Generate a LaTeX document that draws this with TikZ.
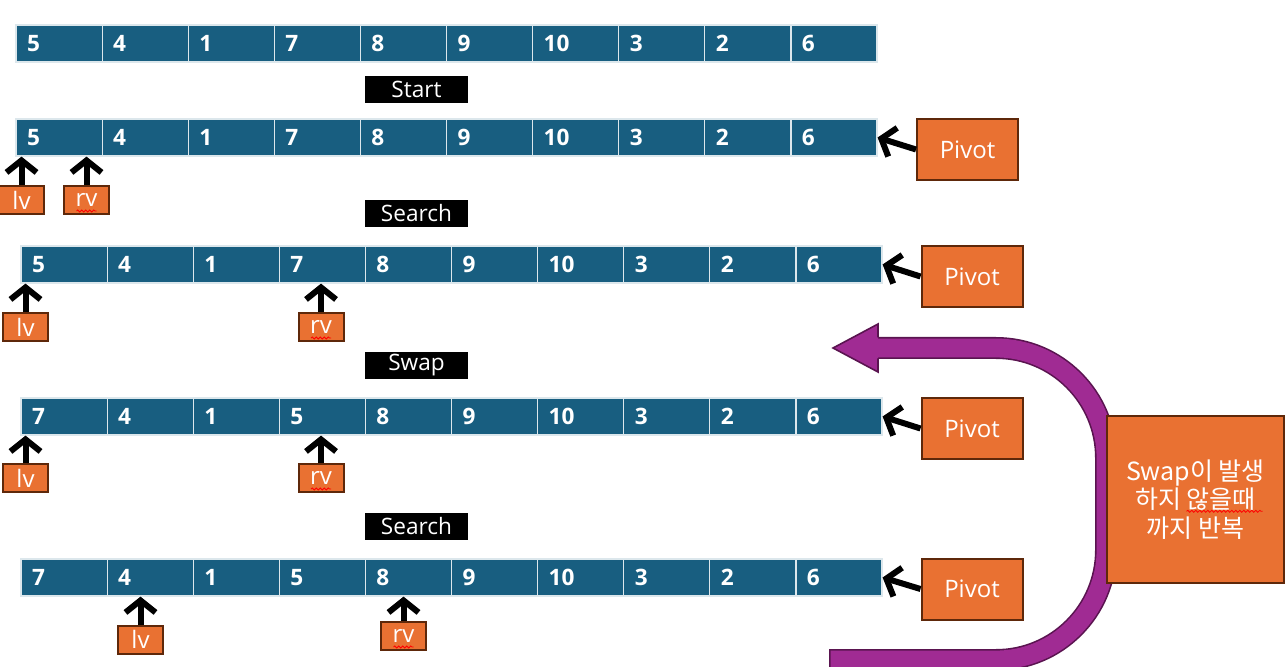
\documentclass[tikz,border=0pt]{standalone}
\usepackage{fontspec}
\setmainfont{Open Sans}
\newfontfamily\krfont{Noto Sans CJK KR}
\usetikzlibrary{arrows.meta,decorations.pathmorphing}
\definecolor{barblue}{RGB}{24,94,128}
\definecolor{orng}{RGB}{233,113,50}
\definecolor{orngb}{RGB}{94,40,10}
\definecolor{purp}{RGB}{160,43,147}
\definecolor{purpd}{RGB}{90,20,80}
\tikzset{
 cell/.style={fill=barblue, draw=white!85!barblue, line width=0.6pt, minimum width=43.05pt,
   minimum height=18.5pt, text width=32pt, inner xsep=5.5pt, inner ysep=0pt, align=left,
   text=white, font=\bfseries\fontsize{11.3}{13}\selectfont},
 tag/.style={fill=black, text=white, minimum width=51.5pt, minimum height=13.5pt, inner sep=0pt,
   font=\fontsize{11.3}{13}\selectfont},
 pivotbox/.style={fill=orng, draw=orngb, line width=1pt, minimum width=50.5pt, minimum height=30.5pt,
   inner sep=0pt, text=white, font=\fontsize{12}{14}\selectfont},
 ptrbox/.style={fill=orng, draw=orngb, line width=1pt, minimum width=22.5pt, minimum height=14pt,
   inner sep=0pt, text=white, font=\fontsize{12}{14}\selectfont},
 bigbox/.style={fill=orng, draw=orngb, line width=1pt, minimum width=88.8pt, minimum height=83.3pt,
   inner sep=0pt, text=white, align=center, font=\krfont\fontsize{12.5}{14.2}\selectfont},
 blk/.style={-{Straight Barb[length=6pt,width=15pt]}, line width=3pt, black},
 spell/.style={red, line width=0.4pt, decorate, decoration={snake, amplitude=0.5pt, segment length=2pt}},
}
\newcommand\qsrow[4]{%
  \foreach \v [count=\i] in {#4} {
    \node[cell] (#1c\i) at ({#2+(\i-0.5)*86.1},{#3+18.5}) {\v};
  }}
\begin{document}
\begin{tikzpicture}[x=0.5pt,y=-0.5pt]
\useasboundingbox (0,0) rectangle (1288,667);
\clip (0,0) rectangle (1288,667);

% rows
\qsrow{ra}{16}{25}{5,4,1,7,8,9,10,3,2,6}
\qsrow{rb}{16}{119}{5,4,1,7,8,9,10,3,2,6}
\qsrow{rc}{21}{246}{5,4,1,7,8,9,10,3,2,6}
\qsrow{rd}{21}{398}{7,4,1,5,8,9,10,3,2,6}
\qsrow{re}{21}{559}{7,4,1,5,8,9,10,3,2,6}

% step labels
\node[tag] (t1) at (416.5,89.5) {Start};
\node[tag] (t2) at (416.5,213.5) {Search};
\node[tag] (t3) at (416.5,365.5) {Swap};
\node[tag] (t4) at (416.5,526) {Search};

% pivots
\node[pivotbox] (pb) at (967.5,149.5) {Pivot};
\node[pivotbox] (pc) at (972,276.5) {Pivot};
\node[pivotbox] (pd) at (972,428.5) {Pivot};
\node[pivotbox] (pe) at (972,589) {Pivot};
\draw[blk] (pb.west) -- (rbc10.east);
\draw[blk] (pc.west) -- (rcc10.east);
\draw[blk] (pd.west) -- (rdc10.east);
\draw[blk] (pe.west) -- (rec10.east);

% lv / rv pointers
\node[ptrbox] (lvb) at (21.5,200) {lv};
\node[ptrbox] (rvb) at (86.5,200) {rv};
\node[ptrbox] (lvc) at (25.5,327) {lv};
\node[ptrbox] (rvc) at (321,327) {rv};
\node[ptrbox] (lvd) at (25.5,478) {lv};
\node[ptrbox] (rvd) at (321,478) {rv};
\node[ptrbox] (lve) at (140.5,639.5) {lv};
\node[ptrbox] (rve) at (403.5,636) {rv};
\foreach \p/\r in {lvb/rbc1, rvb/rbc1, lvc/rcc1, rvc/rcc1, lvd/rdc1, rvd/rdc1, lve/rec1, rve/rec1}{
  \draw[blk] (\p.north) -- (\p.north |- \r.south);
}
\foreach \p in {rvb,rvc,rvd,rve}{
  \draw[spell] (\p.south) ++(-10,-4) -- ++(20,0);
}

% purple U-turn arrow
\draw[purpd, line width=11pt, rounded corners=55pt] (878,348) -- (1106,348) -- (1106,660) -- (829,660);
\draw[purp, line width=9.4pt, rounded corners=55pt] (876,348) -- (1106,348) -- (1106,660) -- (830.5,660);
\fill[purp] (878,324) -- (833,348) -- (878,372) -- cycle;
\draw[purpd, line width=0.8pt, line join=miter] (878,358.5) -- (878,372) -- (833,348) -- (878,324) -- (878,337.5);

% big box
\node[bigbox] (big) at (1195.5,499.3) {Swap이 발생\\하지 않을때\\까지 반복};
\draw[spell] (big.center) ++(-9,12) -- ++(76,0);
\end{tikzpicture}
\end{document}
